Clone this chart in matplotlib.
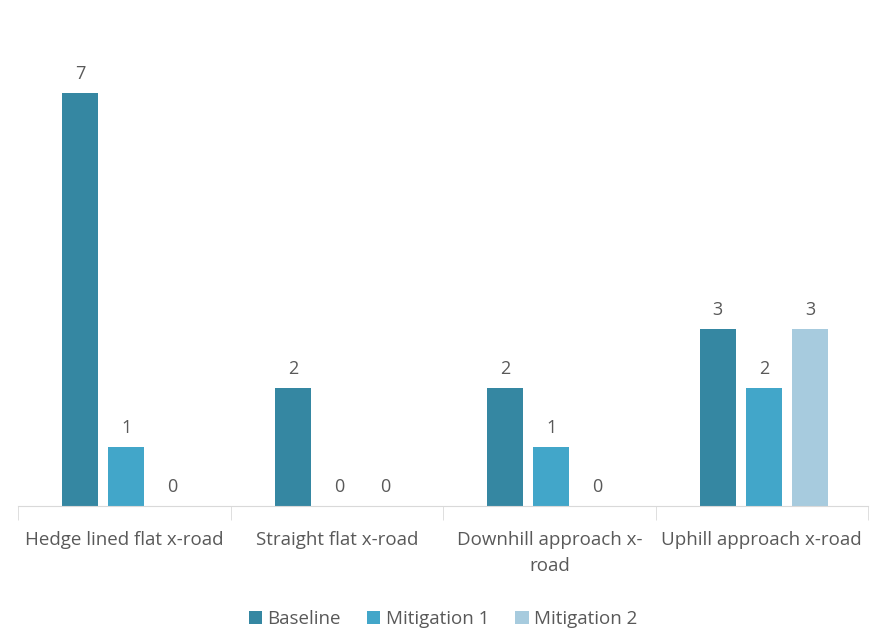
import matplotlib.pyplot as plt
import numpy as np

categories = ["Hedge lined flat x-road", "Straight flat x-road",
              "Downhill approach x-\nroad", "Uphill approach x-road"]
series = ["Baseline", "Mitigation 1", "Mitigation 2"]
baseline = [7, 2, 2, 3]
mitigation1 = [1, 0, 1, 2]
mitigation2 = [0, 0, 0, 3]
colors = ["#3587A2", "#42A6C9", "#A7CBDE"]

plt.rcParams['font.family'] = ['Open Sans', 'DejaVu Sans']
txt = "#595959"

fig = plt.figure(figsize=(8.88, 6.28), dpi=100)
ax = fig.add_axes([18 / 888, 1 - 506 / 628, 850 / 888, 472 / 628])

x = np.arange(len(categories))
w = 0.17
step = 0.217
for i, (name, vals) in enumerate(zip(series, [baseline, mitigation1, mitigation2])):
    pos = x + (i - 1) * step + 0.01
    ax.bar(pos, vals, width=w, color=colors[i], label=name)
    for p, v in zip(pos, vals):
        ax.text(p, v + 0.17, str(v), ha="center", va="bottom",
                fontsize=13, color=txt)

ax.set_xlim(-0.5, len(categories) - 0.5)
ax.set_ylim(0, 8)
ax.set_yticks([])
for s in ["top", "right", "left"]:
    ax.spines[s].set_visible(False)
ax.spines["bottom"].set_color("#D9D9D9")

ax.set_xticks(x)
ax.set_xticklabels(categories, fontsize=13.5, color=txt, linespacing=1.6)
ax.tick_params(axis="x", length=0, pad=18)
ax.set_xticks(np.arange(len(categories) + 1) - 0.5, minor=True)
ax.tick_params(axis="x", which="minor", length=10, color="#D9D9D9")

leg = ax.legend(loc="upper center", bbox_to_anchor=(0.5, -0.185), ncol=3,
                frameon=False, fontsize=13.5, handlelength=0.7, handleheight=0.7,
                handletextpad=0.3, columnspacing=1.4)
for t in leg.get_texts():
    t.set_color(txt)

fig.savefig("out.png", dpi=100)
